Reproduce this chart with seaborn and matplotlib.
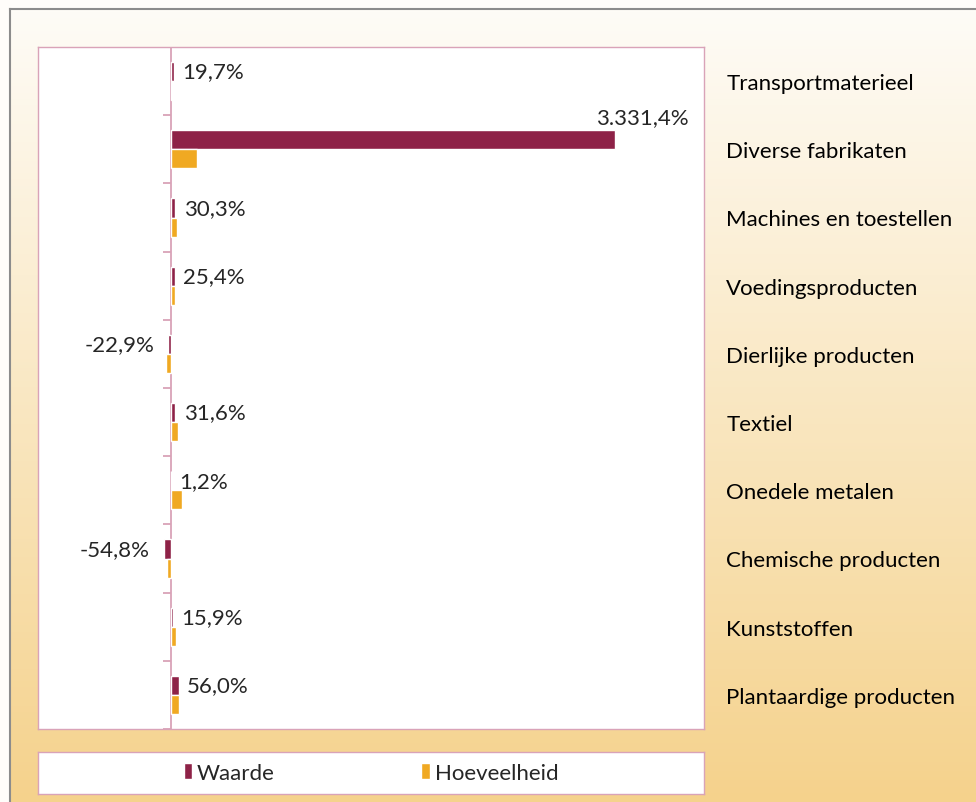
import numpy as np
import pandas as pd
import matplotlib
matplotlib.use("Agg")
import matplotlib.pyplot as plt
import matplotlib.transforms as mtransforms
from matplotlib.patches import Patch
import seaborn as sns

sns.set_theme(style="white")
plt.rcParams['font.family'] = ['Lato', 'DejaVu Sans']

categorieen = ["Transportmaterieel", "Diverse fabrikaten", "Machines en toestellen",
               "Voedingsproducten", "Dierlijke producten", "Textiel", "Onedele metalen",
               "Chemische producten", "Kunststoffen", "Plantaardige producten"]
waarde = [19.7, 3331.4, 30.3, 25.4, -22.9, 31.6, 1.2, -54.8, 15.9, 56.0]
hoeveelheid = [8, 195, 42, 32, -40, 48, 82, -35, 38, 55]

kleur_waarde = "#8E2247"
kleur_hoeveelheid = "#F0A922"
rand = "#D9A3B8"
fs = 16

df = pd.DataFrame({
    "categorie": categorieen * 2,
    "waarde": waarde + hoeveelheid,
    "reeks": ["Waarde"] * len(categorieen) + ["Hoeveelheid"] * len(categorieen),
})


def nl_pct(v):
    s = f"{v:,.1f}"
    s = s.replace(",", "X").replace(".", ",").replace("X", ".")
    return s + "%"


W, H = 976, 803
fig = plt.figure(figsize=(W / 100, H / 100), dpi=100)
fig.patch.set_facecolor("#FFFDFA")

# achtergrond met verloop
bg = fig.add_axes([10 / W, 0, 1 - 10 / W, 1 - 10 / H])
top = np.array([254, 252, 247]) / 255
bot = np.array([245, 210, 140]) / 255
t = np.linspace(0, 1, 256)[:, None]
grad = (top[None, :] * (1 - t) + bot[None, :] * t)[:, None, :]
bg.imshow(grad, aspect="auto", extent=[0, 1, 0, 1], origin="upper")
bg.set_xticks([])
bg.set_yticks([])
for s in ["right", "bottom"]:
    bg.spines[s].set_visible(False)
for s in ["left", "top"]:
    bg.spines[s].set_color("#8C8C8C")
    bg.spines[s].set_linewidth(1.5)

# plotgebied
ax = fig.add_axes([38 / W, 1 - 730 / H, 666 / W, 682 / H])
ax.set_facecolor("white")
sns.barplot(data=df, x="waarde", y="categorie", hue="reeks", orient="h",
            palette={"Waarde": kleur_waarde, "Hoeveelheid": kleur_hoeveelheid},
            hue_order=["Waarde", "Hoeveelheid"], width=0.56, saturation=1,
            legend=False, ax=ax)
ax.set_xlim(-1000, 4000)
ax.set_ylim(len(categorieen) - 0.5, -0.5)
ax.set_xticks([])
ax.set_xlabel("")
ax.set_ylabel("")
for s in ax.spines.values():
    s.set_color(rand)
    s.set_linewidth(1)
ax.axvline(0, color=rand, lw=1.3, zorder=0.5)
ax.hlines(np.arange(-0.5, len(categorieen)), -60, 0, color=rand, lw=1.3)

ax.yaxis.tick_right()
ax.tick_params(axis="y", length=0, pad=16, labelsize=fs, labelcolor="black")

# labels bij de waarde-balken
blend = mtransforms.blended_transform_factory(ax.transAxes, ax.transData)
for i, v in enumerate(waarde):
    yb = i - 0.14
    if v > 2000:
        ax.annotate(nl_pct(v), xy=(1, yb), xycoords=blend, xytext=(-11, 16),
                    textcoords="offset points", ha="right", va="center", fontsize=fs)
    elif v >= 0:
        ax.annotate(nl_pct(v), xy=(v, yb), xytext=(6, 0), textcoords="offset points",
                    ha="left", va="center", fontsize=fs)
    else:
        ax.annotate(nl_pct(v), xy=(v, yb), xytext=(-10, 0), textcoords="offset points",
                    ha="right", va="center", fontsize=fs)

# legenda
lax = fig.add_axes([38 / W, 1 - 795 / H, 666 / W, 42 / H])
lax.set_facecolor("white")
lax.set_xticks([])
lax.set_yticks([])
for s in lax.spines.values():
    s.set_color(rand)
    s.set_linewidth(1)
handles = [Patch(facecolor=kleur_waarde, label="Waarde"),
           Patch(facecolor=kleur_hoeveelheid, label="Hoeveelheid")]
lax.legend(handles=handles, loc="center", ncol=2, frameon=False, fontsize=fs,
           handlelength=0.4, handleheight=0.75, handletextpad=0.2, columnspacing=6.6,
           bbox_to_anchor=(0.5, 0.5))

fig.savefig("out.png", dpi=100)
